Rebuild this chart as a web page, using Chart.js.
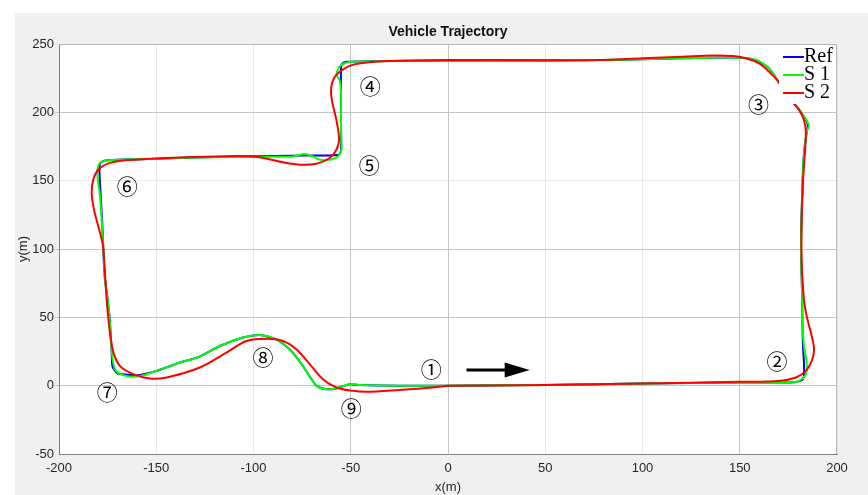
<!DOCTYPE html>
<html>
<head>
  <title>Vehicle Trajectory</title>
  <script src="https://cdn.jsdelivr.net/npm/chart.js"></script>
  <style>
    body { margin: 0; background: #fff; }
    canvas { display: block; }
  </style>
</head>
<body>
  <canvas id="trajChart" width="868" height="495"></canvas>

  <script>
    // reference path (blue)
    const refX = [0, 50, 100, 150, 170, 178, 182, 183, 183, 182.5, 182.2, 182, 181.5, 182, 183, 184.5, 185, 184.5, 181, 175, 169.3, 165, 158.3, 149.7, 135, 120, 100, 77.8, 50, 0, -30, -45, -52, -54.5, -55, -55, -55, -55, -56, -60, -70, -80, -100, -130, -150, -165, -176, -178.8, -179.2, -179, -178.6, -177.8, -177.2, -176.5, -175, -174, -173, -172.5, -170, -165, -160, -149.8, -137.9, -127.6, -117.3, -105.4, -96.8, -88.2, -81.4, -74.6, -67.7, -62.5, -57.4, -50.6, -45.4, -24.9, 0];
    const refY = [0, 0.5, 1.5, 2.3, 2.3, 2.5, 4, 7, 17, 29, 48.5, 70, 100, 136, 170, 186, 190, 193, 201, 212, 223.7, 232.3, 238.3, 240, 240, 239.5, 238.8, 238.3, 238, 237.8, 237.5, 237.2, 237, 235.5, 232, 215, 190, 172, 169, 168.5, 168.5, 168.3, 167.8, 167, 166, 165.5, 164.8, 163, 158, 150, 140, 120, 100, 80, 63, 50, 27, 14, 9, 8, 7.5, 10.8, 16.9, 21.3, 29, 35.2, 37.1, 33.9, 26.6, 14.5, -0.1, -2.6, -2, 1.1, 0.4, -0.1, 0];

    // S 1 (green)
    const s1X = [0, 50, 100, 150, 170, 177, 180.5, 184, 184.4, 183, 182.2, 182, 181.5, 182, 183, 184.5, 185.5, 184.8, 181, 175, 169.3, 165, 158.3, 149.7, 135, 120, 100, 77.8, 50, 0, -30, -45, -52, -55.5, -57, -57.2, -55.7, -55, -55, -54.8, -54.8, -56.6, -60.8, -66, -69.4, -73.7, -79.7, -100, -130, -150, -165, -176, -179, -180.3, -180, -179, -178, -177.2, -176.5, -175, -174, -173, -171.2, -167, -160, -149.8, -137.9, -127.6, -117.3, -105.4, -96.8, -88.2, -81.4, -74.6, -67.7, -62.5, -57.4, -50.6, -45.4, -24.9, 0];
    const s1Y = [0, 0.5, 1.5, 2.3, 2.3, 2.3, 3.5, 8.4, 17, 29, 48.5, 70, 100, 136, 170, 186, 190, 193, 201, 212, 223.7, 232.3, 238.3, 240, 240, 239.5, 238.8, 238.3, 238, 237.8, 237.5, 237.2, 236.5, 234, 230, 227, 223.5, 215, 190, 178, 172.6, 167.7, 165.3, 165.3, 167.7, 169.5, 167.7, 167.5, 167, 166, 165.5, 164.5, 163, 158, 150, 140, 120, 100, 80, 63, 50, 27, 12, 7.7, 6.7, 10.8, 16.9, 21.3, 29, 35.2, 37.1, 33.9, 26.6, 14.5, -0.1, -2.6, -2, 1.1, 0.4, -0.1, 0];

    // S 2 (red)
    const s2X = [0, 50, 100, 149.7, 170.2, 178.8, 184, 187.3, 188.2, 187, 184.8, 183, 181.7, 182.5, 184, 183, 180.5, 177.9, 174, 169.9, 165, 160, 153.1, 146.2, 136, 120.6, 100, 77.8, 50, 0, -30, -45, -50.6, -57.4, -60, -59.7, -57.4, -56, -57.4, -60.8, -67.7, -76, -84.8, -100, -119, -144.7, -161.8, -173.8, -179.8, -182.4, -183.2, -182, -179.8, -178, -177.2, -175.5, -174.7, -173.8, -172, -168.7, -161.8, -153.3, -144.7, -127.6, -113.9, -103.6, -93.4, -84.8, -78, -71.1, -64.3, -57.4, -48.9, -42, -24.9, -7.8, 0];
    const s2Y = [0, 0.4, 1.6, 2.8, 3.5, 6, 10.8, 19.3, 26.6, 36.4, 48.5, 63, 100.9, 148.3, 184.8, 194.5, 201.8, 206.2, 214, 222.5, 229.8, 235.9, 239.6, 241.2, 241.5, 240.7, 239.6, 238.3, 238.2, 238.3, 237.5, 236, 234, 227.4, 218.8, 209, 194.5, 180, 172.6, 166.6, 162.4, 161.7, 163.4, 167.7, 167.7, 166.6, 165.3, 163, 158, 150.7, 141, 128.8, 116.6, 106.9, 100, 63, 50, 38.8, 24.2, 14.5, 8.4, 5.2, 6, 13.3, 24.2, 32.7, 34.4, 32.7, 26.6, 15.7, 4.7, -1.3, -3.8, -4.5, -3.1, -1.3, 0];

    // circled point labels (data coords)
    const markText = ['\u2460', '\u2461', '\u2462', '\u2463', '\u2464', '\u2465', '\u2466', '\u2467', '\u2468'];
    const markX = [-8.6, 169.1, 159.7, -40, -40.5, -164.9, -175.2, -95.1, -49.8];
    const markY = [12, 18, 205.8, 219.3, 161.4, 146, -4.6, 20.7, -16.4];

    // direction arrow
    const arrowX = [9.5, 42];
    const arrowY = [11.5, 11.5];

    const xTicks = [-200, -150, -100, -50, 0, 50, 100, 150, 200];
    const yTicks = [-50, 0, 50, 100, 150, 200, 250];
    const darkX = [-50, 0, 150];
    const darkY = [0, 50, 100, 200];

    const seriesNames = ['Ref', 'S 1', 'S 2'];
    const seriesColors = ['#0000ff', '#00ff00', '#ff0000'];

    function pts(xs, ys) {
      return xs.map((x, i) => ({ x: x, y: ys[i] }));
    }

    const sansFont = '"Liberation Sans", Arial, sans-serif';

    const decor = {
      id: 'decor',
      beforeDraw(chart) {
        const c = chart.ctx, a = chart.chartArea;
        c.save();
        c.fillStyle = '#ffffff';
        c.fillRect(0, 0, chart.width, chart.height);
        c.fillStyle = '#f0f0f0';
        c.fillRect(15, 13, chart.width - 15, chart.height - 13);
        c.fillStyle = '#ffffff';
        c.fillRect(a.left, a.top, a.right - a.left, a.bottom - a.top);
        c.restore();
      },
      afterDatasetsDraw(chart) {
        const c = chart.ctx, a = chart.chartArea;
        const xs = chart.scales.x, ys = chart.scales.y;
        c.save();
        // top / right box edges
        c.strokeStyle = '#b4b4b4';
        c.lineWidth = 1;
        c.beginPath();
        c.moveTo(a.left, a.top + 0.5);
        c.lineTo(a.right - 0.5, a.top + 0.5);
        c.lineTo(a.right - 0.5, a.bottom);
        c.stroke();

        // circled labels
        c.fillStyle = '#000';
        c.font = '21px "Noto Sans CJK JP", "DejaVu Sans", serif';
        c.textAlign = 'center';
        c.textBaseline = 'middle';
        markText.forEach((t, i) => {
          c.fillText(t, xs.getPixelForValue(markX[i]), ys.getPixelForValue(markY[i]));
        });

        // arrow
        const x0 = xs.getPixelForValue(arrowX[0]);
        const x1 = xs.getPixelForValue(arrowX[1]);
        const ay = ys.getPixelForValue(arrowY[0]);
        c.strokeStyle = '#000';
        c.lineWidth = 3;
        c.beginPath();
        c.moveTo(x0, ay);
        c.lineTo(x1 - 24, ay);
        c.stroke();
        c.beginPath();
        c.moveTo(x1, ay);
        c.lineTo(x1 - 25, ay - 7.5);
        c.lineTo(x1 - 25, ay + 7.5);
        c.closePath();
        c.fill();

        // legend
        const lx = a.right - 58, ly = a.top + 3;
        c.fillStyle = '#ffffff';
        c.fillRect(lx, ly, 57, 57);
        c.font = '20px "Liberation Serif", "Times New Roman", serif';
        c.textAlign = 'left';
        c.textBaseline = 'middle';
        seriesNames.forEach((n, i) => {
          const yy = ly + 10 + i * 18;
          c.strokeStyle = seriesColors[i];
          c.lineWidth = 2;
          c.beginPath();
          c.moveTo(lx + 4, yy);
          c.lineTo(lx + 25, yy);
          c.stroke();
          c.fillStyle = '#000';
          c.fillText(n, lx + 25, yy);
        });

        // title
        c.font = 'bold 14px ' + sansFont;
        c.textAlign = 'center';
        c.fillStyle = '#111';
        c.fillText('Vehicle Trajectory', (a.left + a.right) / 2, 32);
        c.restore();
      }
    };

    const ctx = document.getElementById('trajChart').getContext('2d');
    new Chart(ctx, {
      type: 'scatter',
      data: {
        datasets: [
          { label: seriesNames[0], data: pts(refX, refY), borderColor: seriesColors[0], order: 2, tension: 0.2 },
          { label: seriesNames[1], data: pts(s1X, s1Y), borderColor: seriesColors[1], order: 1, tension: 0.35 },
          { label: seriesNames[2], data: pts(s2X, s2Y), borderColor: seriesColors[2], order: 0, tension: 0.35 }
        ].map(d => Object.assign(d, { showLine: true, pointRadius: 0, borderWidth: 2, fill: false }))
      },
      options: {
        responsive: false,
        animation: false,
        layout: { padding: { left: 0, right: 31, top: 44, bottom: 0 } },
        plugins: { legend: { display: false }, tooltip: { enabled: false } },
        scales: {
          x: {
            type: 'linear', min: -200, max: 200,
            afterBuildTicks: s => { s.ticks = xTicks.map(v => ({ value: v })); },
            afterFit: s => { s.height = 41; },
            ticks: { font: { size: 13, family: sansFont }, color: '#262626', padding: 7 },
            grid: {
              drawTicks: false,
              color: c => darkX.includes(c.tick && c.tick.value) ? '#c4c4c4' : '#e8e8e8'
            },
            border: { color: '#808080' },
            title: { display: true, text: 'x(m)', font: { size: 13, family: sansFont }, color: '#262626', padding: { top: 0, bottom: 0 } }
          },
          y: {
            type: 'linear', min: -50, max: 250,
            afterBuildTicks: s => { s.ticks = yTicks.map(v => ({ value: v })); },
            afterFit: s => { s.width = 59; },
            ticks: { font: { size: 13, family: sansFont }, color: '#262626', padding: 1 },
            grid: {
              tickLength: 4,
              color: c => darkY.includes(c.tick && c.tick.value) ? '#c4c4c4' : '#e8e8e8'
            },
            border: { color: '#808080' },
            title: { display: true, text: 'y(m)', font: { size: 13, family: sansFont }, color: '#262626', padding: { top: 16, bottom: 0 } }
          }
        }
      },
      plugins: [decor]
    });
  </script>
</body>
</html>
